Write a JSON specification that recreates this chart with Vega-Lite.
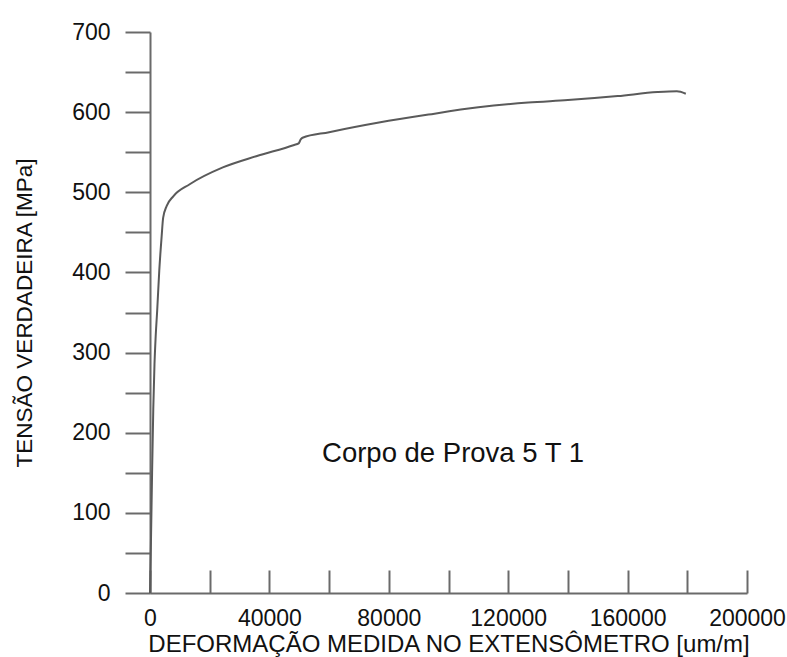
{
  "$schema": "https://vega.github.io/schema/vega-lite/v6.json",
  "autosize": "none",
  "width": 597,
  "height": 561,
  "padding": {"left": 150, "top": 32, "right": 40, "bottom": 64},
  "background": "white",
  "config": {
    "view": {"stroke": null},
    "axis": {
      "grid": false,
      "domainColor": "#6a6a6a",
      "domainWidth": 2,
      "tickColor": "#6a6a6a",
      "tickWidth": 2,
      "labelFont": "Liberation Sans",
      "labelFontSize": 23,
      "labelColor": "#111111",
      "titleFont": "Liberation Sans",
      "titleFontWeight": "normal",
      "titleColor": "#111111"
    }
  },
  "layer": [
    {
      "data": {
        "values": [
          {"strain": 0, "stress": 0},
          {"strain": 300, "stress": 60},
          {"strain": 700, "stress": 150},
          {"strain": 1100, "stress": 230},
          {"strain": 1500, "stress": 285},
          {"strain": 1900, "stress": 320},
          {"strain": 2400, "stress": 352},
          {"strain": 3100, "stress": 402},
          {"strain": 3900, "stress": 445},
          {"strain": 4400, "stress": 468},
          {"strain": 5600, "stress": 483},
          {"strain": 7800, "stress": 495},
          {"strain": 13300, "stress": 510},
          {"strain": 24400, "stress": 531},
          {"strain": 35600, "stress": 545},
          {"strain": 48300, "stress": 559},
          {"strain": 49800, "stress": 561},
          {"strain": 50500, "stress": 566},
          {"strain": 51100, "stress": 568},
          {"strain": 60000, "stress": 575},
          {"strain": 76700, "stress": 587},
          {"strain": 93300, "stress": 597},
          {"strain": 110000, "stress": 606},
          {"strain": 126700, "stress": 612},
          {"strain": 140000, "stress": 615},
          {"strain": 156700, "stress": 620},
          {"strain": 170000, "stress": 625},
          {"strain": 176500, "stress": 626},
          {"strain": 179500, "stress": 623}
        ]
      },
      "mark": {"type": "line", "color": "#5a5a5a", "strokeWidth": 2, "interpolate": "monotone"},
      "encoding": {
        "x": {
          "field": "strain",
          "type": "quantitative",
          "scale": {"domain": [0, 200000], "nice": false},
          "axis": {
            "title": "DEFORMAÇÃO MEDIDA NO EXTENSÔMETRO [um/m]",
            "titleFontSize": 24,
            "titlePadding": 2,
            "values": [0, 20000, 40000, 60000, 80000, 100000, 120000, 140000, 160000, 180000, 200000],
            "labelExpr": "datum.value % 40000 == 0 ? datum.value : ''",
            "tickSize": -23,
            "labelPadding": 37,
            "labelFlush": false,
            "labelOverlap": false
          }
        },
        "y": {
          "field": "stress",
          "type": "quantitative",
          "scale": {"domain": [0, 700], "nice": false},
          "axis": {
            "title": "TENSÃO VERDADEIRA [MPa]",
            "titleFontSize": 22.5,
            "titlePadding": 35,
            "values": [0, 50, 100, 150, 200, 250, 300, 350, 400, 450, 500, 550, 600, 650, 700],
            "labelExpr": "datum.value % 100 == 0 ? datum.value : ''",
            "tickSize": 25,
            "labelPadding": 15,
            "labelFlush": false,
            "labelOverlap": false
          }
        }
      }
    },
    {
      "data": {"values": [{"strain": 101500, "stress": 173, "label": "Corpo de Prova 5 T 1"}]},
      "mark": {"type": "text", "font": "Liberation Sans", "fontSize": 27.5, "color": "#111111", "align": "center", "baseline": "middle"},
      "encoding": {
        "x": {"field": "strain", "type": "quantitative"},
        "y": {"field": "stress", "type": "quantitative"},
        "text": {"field": "label"}
      }
    }
  ]
}
